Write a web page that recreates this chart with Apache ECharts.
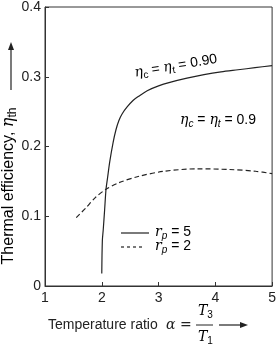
<!DOCTYPE html>
<html><head><meta charset="utf-8">
<script src="https://cdn.jsdelivr.net/npm/echarts@6/dist/echarts.min.js"></script>
<style>html,body{margin:0;padding:0;background:#fff}#c{width:279px;height:345px}</style>
</head><body><div id="c"></div>
<script>
const xTicks = [1, 2, 3, 4, 5];
const yTicks = [0, 0.1, 0.2, 0.3, 0.4];
const rp5X = [2.0, 2.01, 2.025, 2.05, 2.075, 2.1, 2.14, 2.2, 2.25, 2.3, 2.36, 2.45, 2.55, 2.65, 2.8, 3.0, 3.2, 3.5, 3.8, 4.1, 4.4, 4.7, 5.0];
const rp5Y = [0.018, 0.065, 0.08, 0.109, 0.139, 0.154, 0.178, 0.206, 0.224, 0.237, 0.247, 0.257, 0.266, 0.272, 0.28, 0.287, 0.292, 0.298, 0.303, 0.307, 0.31, 0.313, 0.316];
const rp2X = [1.55, 1.72, 1.89, 2.08, 2.3, 2.64, 3.1, 3.68, 4.25, 4.71, 5.0];
const rp2Y = [0.098, 0.112, 0.127, 0.139, 0.148, 0.157, 0.1645, 0.168, 0.167, 0.1645, 0.161];
const legendLabels = ['5', '2'];
const annoTop = '0.90';
const annoBottom = '0.9';

const F = 'Liberation Sans, Arial, Helvetica, sans-serif';
const C = '#222';
const pair = (xs, ys) => xs.map((x, i) => [x, ys[i]]);
const mk = (fs) => ({
  n: {fontFamily: F, fontSize: fs, color: C, verticalAlign: 'top', lineHeight: fs + 2},
  i: {fontFamily: 'DejaVu Serif, serif', fontStyle: 'italic', fontSize: fs, color: C, verticalAlign: 'top', lineHeight: fs + 2},
  s: {fontFamily: F, fontSize: fs - 4, color: C, verticalAlign: 'bottom', lineHeight: fs - 2},
  si: {fontFamily: F, fontStyle: 'italic', fontSize: fs - 4, color: C, verticalAlign: 'bottom', lineHeight: fs - 2}
});
const rich = mk(14);
const richY = mk(16);

const chart = echarts.init(document.getElementById('c'));
chart.setOption({
  animation: false,
  backgroundColor: '#fff',
  grid: {left: 45, right: 2, top: 4, bottom: 59, show: true, borderColor: '#333', borderWidth: 1},
  xAxis: {
    type: 'value', min: xTicks[0], max: xTicks[xTicks.length - 1], interval: 1,
    axisLine: {lineStyle: {color: '#333', width: 1}},
    axisTick: {inside: true, length: 4, lineStyle: {color: '#333'}},
    splitLine: {show: false},
    axisLabel: {fontFamily: F, fontSize: 14, color: C, margin: 5}
  },
  yAxis: {
    type: 'value', min: yTicks[0], max: yTicks[yTicks.length - 1], interval: 0.1,
    axisLine: {show: true, lineStyle: {color: '#333', width: 1}},
    axisTick: {show: true, inside: true, length: 4, lineStyle: {color: '#333'}},
    splitLine: {show: false},
    axisLabel: {fontFamily: F, fontSize: 14, color: C, margin: 4,
      formatter: v => v === 0 ? '0' : v.toFixed(1)}
  },
  series: [
    {type: 'line', data: pair(rp5X, rp5Y), symbol: 'none', smooth: 0.3,
     lineStyle: {color: C, width: 1.2}},
    {type: 'line', data: pair(rp2X, rp2Y), symbol: 'none', smooth: 0.3,
     lineStyle: {color: C, width: 1.2, type: [5, 3]}}
  ],
  graphic: [
    {type: 'line', shape: {x1: 121, y1: 233, x2: 149, y2: 233}, style: {stroke: C, lineWidth: 1.2}},
    {type: 'line', shape: {x1: 121, y1: 247, x2: 145, y2: 247}, style: {stroke: C, lineWidth: 1.2, lineDash: [3, 3]}},
    {type: 'text', x: 155, y: 225, style: {text: '{i|r}{si|p}{n| = ' + legendLabels[0] + '}', rich: rich}},
    {type: 'text', x: 155, y: 239, style: {text: '{i|r}{si|p}{n| = ' + legendLabels[1] + '}', rich: rich}},
    {type: 'text', x: 176, y: 67, rotation: 0.17,
     style: {text: '{i|η}{s|c}{n| = }{i|η}{s|t}{n| = ' + annoTop + '}', rich: rich, align: 'center', verticalAlign: 'middle'}},
    {type: 'text', x: 218, y: 121,
     style: {text: '{i|η}{si|c}{n| = }{i|η}{si|t}{n| = ' + annoBottom + '}', rich: rich, align: 'center', verticalAlign: 'middle'}},
    {type: 'text', x: 10, y: 186, rotation: Math.PI / 2,
     style: {text: '{n|Thermal efficiency, }{i|η}{s|th}', rich: richY, align: 'center', verticalAlign: 'middle'}},
    {type: 'line', shape: {x1: 11, y1: 90, x2: 11, y2: 47}, style: {stroke: C, lineWidth: 1.2}},
    {type: 'polygon', shape: {points: [[11, 42], [8, 50], [14, 50]]}, style: {fill: C}},
    {type: 'text', x: 48, y: 325, style: {text: 'Temperature ratio ', font: '14px ' + F, fill: C, verticalAlign: 'middle'}},
    {type: 'text', x: 166, y: 325, style: {text: 'α = ', font: 'italic 14px DejaVu Serif, serif', fill: C, verticalAlign: 'middle'}},
    {type: 'text', x: 198, y: 312, style: {text: '{i|T}{s|3}', rich: rich, verticalAlign: 'middle'}},
    {type: 'line', shape: {x1: 196, y1: 325, x2: 213, y2: 325}, style: {stroke: C, lineWidth: 1}},
    {type: 'text', x: 198, y: 338, style: {text: '{i|T}{s|1}', rich: rich, verticalAlign: 'middle'}},
    {type: 'line', shape: {x1: 219, y1: 325, x2: 242, y2: 325}, style: {stroke: C, lineWidth: 1.2}},
    {type: 'polygon', shape: {points: [[248, 325], [240, 322], [240, 328]]}, style: {fill: C}}
  ]
});
</script></body></html>
